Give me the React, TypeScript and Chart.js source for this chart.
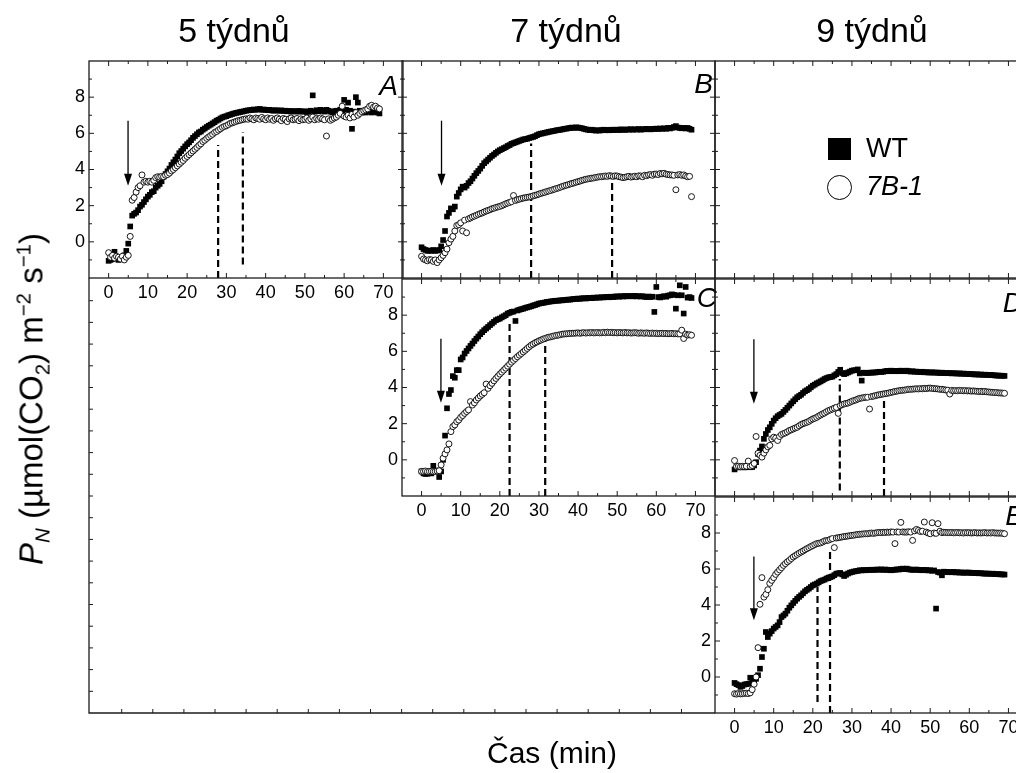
import React, { useEffect, useRef } from "react";
import { Chart, registerables } from "chart.js";
Chart.register(...registerables);

const FONT = '"Liberation Sans", Arial, Helvetica, sans-serif';

// ---------------- DATA ----------------
const TIME = [
  0, 0.5, 1, 1.5, 2, 2.5, 3, 3.5, 4, 4.5,
  5, 5.5, 6, 6.5, 7, 7.5, 8, 8.5, 9, 9.5,
  10, 10.5, 11, 11.5, 12, 12.5, 13, 13.5, 14, 14.5,
  15, 15.5, 16, 16.5, 17, 17.5, 18, 18.5, 19, 19.5,
  20, 20.5, 21, 21.5, 22, 22.5, 23, 23.5, 24, 24.5,
  25, 25.5, 26, 26.5, 27, 27.5, 28, 28.5, 29, 29.5,
  30, 30.5, 31, 31.5, 32, 32.5, 33, 33.5, 34, 34.5,
  35, 35.5, 36, 36.5, 37, 37.5, 38, 38.5, 39, 39.5,
  40, 40.5, 41, 41.5, 42, 42.5, 43, 43.5, 44, 44.5,
  45, 45.5, 46, 46.5, 47, 47.5, 48, 48.5, 49, 49.5,
  50, 50.5, 51, 51.5, 52, 52.5, 53, 53.5, 54, 54.5,
  55, 55.5, 56, 56.5, 57, 57.5, 58, 58.5, 59, 59.5,
  60, 60.5, 61, 61.5, 62, 62.5, 63, 63.5, 64, 64.5,
  65, 65.5, 66, 66.5, 67, 67.5, 68, 68.5, 69,
];

const A_WT = [
  -1.05, -1.0, -0.95, -0.55, -0.9, -1.0, -0.9, -0.95, -0.75, -0.5,
  -0.1, 0.85, 1.45, 1.55, 1.62, 1.75, 1.95, 2.05, 2.2, 2.35,
  2.5, 2.6, 2.75, 2.8, 3.0, 3.1, 3.2, 3.35, 3.6, 3.75,
  3.9, 4.05, 4.25, 4.4, 4.55, 4.72, 4.9, 5.02, 5.15, 5.28,
  5.4, 5.5, 5.62, 5.75, 5.85, 5.95, 6.05, 6.1, 6.2, 6.27,
  6.35, 6.42, 6.48, 6.55, 6.62, 6.7, 6.75, 6.82, 6.88, 6.92,
  6.95, 7.0, 7.03, 7.07, 7.1, 7.13, 7.15, 7.18, 7.2, 7.22,
  7.25, 7.27, 7.28, 7.3, 7.32, 7.3, 7.33, 7.35, 7.3, 7.32,
  7.3, 7.28, 7.3, 7.27, 7.25, 7.28, 7.26, 7.25, 7.27, 7.24,
  7.25, 7.22, 7.24, 7.2, 7.23, 7.22, 7.2, 7.24, 7.21, 7.2,
  7.22, 7.18, 7.2, 7.25, 8.1, 7.2, 7.28, 7.22, 7.3, 7.25,
  7.2, 7.3, 7.25, 7.2, 7.15, 7.22, 7.25, 7.18, 7.3, 7.2,
  7.85, 7.3, 7.7, 7.25, 6.25, 7.2, 8.0, 7.7, 7.25, 7.15,
  7.2, 7.15, 7.25, 7.2, 7.15, 7.22, 7.18, 7.15, 7.1,
];
const A_7B1 = [
  -0.6, -0.85, -0.75, -0.9, -0.8, -0.85, -0.95, -0.8, -1.0, -0.85,
  -0.75, 0.3, 2.3, 2.45, 2.75, 3.0, 3.1, 3.7, 3.3, 3.35,
  3.3, 3.35, 3.3, 3.4, 3.55, 3.6, 3.58, 3.62, 3.6, 3.68,
  3.72, 3.8, 3.92, 4.0, 4.1, 4.2, 4.3, 4.4, 4.5, 4.62,
  4.72, 4.82, 4.92, 5.02, 5.12, 5.22, 5.33, 5.42, 5.55, 5.62,
  5.72, 5.8, 5.88, 5.95, 6.05, 6.1, 6.18, 6.25, 6.33, 6.38,
  6.42, 6.48, 6.55, 6.58, 6.62, 6.66, 6.7, 6.72, 6.75, 6.78,
  6.8, 6.78, 6.85, 6.8, 6.75, 6.85, 6.82, 6.78, 6.88, 6.8,
  6.75, 6.85, 6.78, 6.82, 6.72, 6.8, 6.85, 6.78, 6.7, 6.82,
  6.78, 6.65, 6.8, 6.85, 6.75, 6.78, 6.82, 6.7, 6.8, 6.75,
  6.78, 6.85, 6.72, 6.8, 6.9, 6.75, 6.82, 6.78, 6.85, 6.8,
  6.75, 5.85, 6.8, 6.72, 6.78, 6.85, 6.9, 7.0, 7.1, 7.5,
  6.95, 6.9, 7.0, 6.85, 7.05, 6.9, 7.15, 7.0, 7.1, 7.2,
  7.25, 7.3, 7.35, 7.5, 7.55, 7.45, 7.5, 7.4, 7.35,
];

const B_WT = [
  -0.3, -0.4, -0.45, -0.5, -0.48, -0.5, -0.45, -0.5, -0.48, -0.45,
  -0.25, 0.1, 0.6, 1.4, 1.6, 1.85, 1.8, 1.95, 2.5, 2.7,
  2.9, 3.05, 3.0, 3.1, 3.25, 3.35, 3.5, 3.65, 3.8, 3.92,
  4.05, 4.2, 4.35, 4.45, 4.55, 4.65, 4.75, 4.83, 4.92, 5.0,
  5.07, 5.12, 5.18, 5.23, 5.3, 5.35, 5.42, 5.46, 5.5, 5.54,
  5.58, 5.62, 5.66, 5.68, 5.7, 5.74, 5.77, 5.8, 5.84, 5.9,
  5.95, 5.98, 6.0, 6.03, 6.05, 6.08, 6.1, 6.12, 6.14, 6.17,
  6.18, 6.2, 6.22, 6.25, 6.26, 6.28, 6.3, 6.32, 6.3, 6.33,
  6.32, 6.3, 6.28, 6.25, 6.22, 6.2, 6.18, 6.2, 6.17, 6.15,
  6.17, 6.15, 6.18, 6.2, 6.17, 6.19, 6.17, 6.2, 6.18, 6.2,
  6.2, 6.18, 6.22, 6.2, 6.19, 6.22, 6.2, 6.23, 6.2, 6.22,
  6.21, 6.24, 6.2, 6.23, 6.22, 6.25, 6.23, 6.22, 6.25, 6.24,
  6.26, 6.24, 6.27, 6.25, 6.28, 6.25, 6.3, 6.27, 6.3, 6.35,
  6.4, 6.32, 6.3, 6.28, 6.3, 6.27, 6.3, 6.25, 6.2,
];
const B_7B1 = [
  -0.8, -0.95, -1.0, -1.05, -0.98, -1.0, -1.08, -1.0, -1.15, -1.0,
  -0.88, -0.75, -0.6, -0.4, -0.05, 0.15, 0.3, 0.6, 0.9, 0.95,
  1.05, 0.6, 1.2, 0.5, 1.27, 1.32, 1.38, 1.42, 1.47, 1.52,
  1.56, 1.6, 1.65, 1.7, 1.74, 1.78, 1.83, 1.86, 1.9, 1.93,
  1.96, 2.0, 2.05, 2.1, 2.14, 2.18, 2.22, 2.56, 2.29, 2.33,
  2.36, 2.39, 2.42, 2.44, 2.46, 2.48, 2.5, 2.54, 2.57, 2.6,
  2.64, 2.68, 2.71, 2.74, 2.78, 2.81, 2.84, 2.88, 2.91, 2.95,
  2.98, 3.02, 3.06, 3.1, 3.13, 3.16, 3.2, 3.23, 3.26, 3.3,
  3.33, 3.36, 3.4, 3.43, 3.46, 3.48, 3.5, 3.52, 3.53, 3.56,
  3.58, 3.6, 3.6, 3.62, 3.64, 3.62, 3.66, 3.64, 3.62, 3.65,
  3.64, 3.6, 3.58, 3.55, 3.57, 3.6, 3.62, 3.58, 3.6, 3.63,
  3.6, 3.65, 3.64, 3.6, 3.68, 3.66, 3.7, 3.72, 3.68, 3.74,
  3.75, 3.72, 3.78, 3.76, 3.79, 3.74, 3.72, 3.7, 3.7, 3.68,
  2.88, 3.7, 3.72, 3.68, 3.7, 3.64, 3.6, 3.62, 2.5,
];

const C_WT = [
  -0.64, -0.75, -0.78, -0.77, -0.72, -0.75, -0.33, -0.6, -0.64, -0.95,
  -0.64, 0.0, 1.34, 2.85, 3.64, 3.86, 4.63, 4.54, 4.96, 4.96,
  5.55, 5.66, 5.88, 6.02, 6.16, 6.3, 6.43, 6.57, 6.7, 6.82,
  6.95, 7.06, 7.17, 7.26, 7.35, 7.45, 7.54, 7.63, 7.72, 7.77,
  7.81, 7.88, 7.94, 8.0, 8.09, 8.13, 8.18, 8.2, 7.68, 8.26,
  8.3, 8.33, 8.36, 8.4, 8.43, 8.46, 8.49, 8.53, 8.56, 8.6,
  8.64, 8.66, 8.68, 8.7, 8.73, 8.74, 8.76, 8.77, 8.79, 8.8,
  8.8, 8.82, 8.82, 8.84, 8.85, 8.86, 8.86, 8.88, 8.9, 8.9,
  8.92, 8.9, 8.93, 8.94, 8.92, 8.95, 8.96, 8.94, 8.97, 8.96,
  8.98, 8.97, 8.99, 8.98, 9.0, 9.01, 8.99, 9.02, 9.0, 9.03,
  9.04, 9.02, 9.05, 9.03, 9.06, 9.04, 9.05, 9.06, 9.04, 9.07,
  9.04, 9.05, 9.03, 9.05, 9.02, 9.0, 9.03, 9.0, 9.02, 8.18,
  9.56, 9.0, 8.98, 9.02, 9.05, 9.02, 9.08, 9.1, 9.15, 9.12,
  8.36, 9.1, 9.65, 9.1, 8.09, 9.56, 8.97, 9.0, 8.95,
];
const C_7B1 = [
  -0.64, -0.64, -0.62, -0.65, -0.64, -0.63, -0.65, -0.64, -0.62, -0.6,
  -0.28, 0.09, 0.33, 0.55, 0.88, 1.56, 1.84, 1.93, 2.11, 2.2,
  2.35, 2.45, 2.57, 2.67, 2.76, 3.22, 3.03, 3.15, 3.31, 3.42,
  3.53, 3.62, 3.71, 4.19, 3.95, 4.1, 4.23, 4.37, 4.5, 4.62,
  4.74, 4.85, 4.96, 5.07, 5.18, 5.29, 5.4, 5.5, 5.6, 5.7,
  5.79, 5.88, 5.97, 6.06, 6.16, 6.25, 6.34, 6.4, 6.47, 6.52,
  6.58, 6.62, 6.67, 6.71, 6.75, 6.78, 6.8, 6.83, 6.86, 6.88,
  6.9, 6.92, 6.95, 6.96, 6.97, 6.98, 6.99, 7.0, 7.0, 7.01,
  7.02, 7.0, 7.02, 7.03, 7.01, 7.03, 7.02, 7.04, 7.02, 7.03,
  7.04, 7.02, 7.03, 7.05, 7.03, 7.06, 7.04, 7.05, 7.03, 7.04,
  7.02, 7.04, 7.03, 7.02, 7.04, 7.02, 7.03, 7.01, 7.02, 7.03,
  7.02, 7.0, 7.02, 7.01, 7.0, 7.02, 7.0, 6.99, 7.01, 6.99,
  7.0, 6.98, 6.99, 7.0, 6.98, 6.99, 6.97, 6.98, 6.99, 6.97,
  6.98, 6.96, 6.97, 7.17, 6.71, 6.95, 6.9, 6.92, 6.89,
];

const D_WT = [
  -0.53, -0.4, -0.42, -0.38, -0.4, -0.42, -0.4, -0.38, -0.41, -0.4,
  -0.31, -0.13, 0.33, 0.51, 0.74, 1.16, 1.43, 1.65, 1.8, 1.99,
  2.17, 2.3, 2.41, 2.48, 2.54, 2.65, 2.76, 2.88, 3.0, 3.12,
  3.24, 3.35, 3.46, 3.53, 3.6, 3.7, 3.79, 3.85, 3.92, 4.01,
  4.1, 4.16, 4.23, 4.28, 4.34, 4.4, 4.47, 4.52, 4.56, 4.58,
  4.6, 4.67, 4.74, 4.86, 4.98, 4.8, 4.74, 4.78, 4.83, 4.88,
  4.93, 4.95, 4.96, 5.0, 4.78, 4.38, 4.82, 4.8, 4.8, 4.82,
  4.82, 4.83, 4.83, 4.85, 4.87, 4.86, 4.87, 4.9, 4.92, 4.9,
  4.93, 4.91, 4.9, 4.92, 4.9, 4.93, 4.92, 4.9, 4.93, 4.9,
  4.88, 4.9, 4.87, 4.88, 4.86, 4.85, 4.87, 4.84, 4.85, 4.83,
  4.83, 4.84, 4.82, 4.83, 4.82, 4.8, 4.82, 4.8, 4.8, 4.79,
  4.8, 4.78, 4.79, 4.78, 4.77, 4.78, 4.76, 4.77, 4.75, 4.76,
  4.74, 4.75, 4.73, 4.72, 4.73, 4.71, 4.72, 4.7, 4.71, 4.7,
  4.69, 4.7, 4.68, 4.67, 4.66, 4.66, 4.65, 4.65, 4.64,
];
const D_7B1 = [
  -0.04, -0.37, -0.35, -0.38, -0.36, -0.37, -0.35, -0.07, -0.36, -0.31,
  -0.2, 1.29, 0.36, 0.25, 0.15, 0.37, 0.55, 0.72, 0.8, 1.16,
  1.25, 1.2, 1.07, 1.29, 1.4, 1.45, 1.49, 1.55, 1.62, 1.66,
  1.71, 1.76, 1.8, 1.88, 1.95, 2.0, 2.04, 2.08, 2.13, 2.2,
  2.26, 2.3, 2.35, 2.42, 2.48, 2.54, 2.59, 2.66, 2.72, 2.76,
  2.81, 2.86, 2.9, 2.57, 3.0, 3.05, 3.09, 3.12, 3.14, 3.19,
  3.24, 3.28, 3.31, 3.36, 3.4, 3.42, 3.44, 3.46, 3.46, 2.81,
  3.5, 3.52, 3.55, 3.58, 3.6, 3.62, 3.64, 3.66, 3.68, 3.7,
  3.73, 3.75, 3.78, 3.8, 3.82, 3.84, 3.85, 3.86, 3.88, 3.9,
  3.9, 3.91, 3.92, 3.93, 3.92, 3.94, 3.93, 3.95, 3.94, 3.96,
  3.97, 3.95, 3.94, 3.93, 3.92, 3.9, 3.9, 3.88, 3.86, 3.85,
  3.64, 3.84, 3.82, 3.83, 3.82, 3.84, 3.83, 3.82, 3.83, 3.81,
  3.82, 3.8, 3.81, 3.8, 3.79, 3.78, 3.79, 3.77, 3.78, 3.76,
  3.75, 3.74, 3.73, 3.72, 3.72, 3.7, 3.7, 3.69, 3.68,
];

const E_WT = [
  -0.33, -0.4, -0.45, -0.55, -0.5, -0.42, -0.4, -0.38, -0.04, -0.28,
  -0.25, -0.1, 0.1, 0.46, 1.11, 1.57, 2.5, 2.22, 2.41, 2.55,
  2.69, 2.78, 2.87, 3.05, 3.33, 3.42, 3.52, 3.68, 3.85, 3.98,
  4.11, 4.23, 4.35, 4.45, 4.54, 4.65, 4.76, 4.84, 4.91, 5.0,
  5.09, 5.14, 5.19, 5.26, 5.33, 5.37, 5.41, 5.47, 5.52, 5.55,
  5.59, 5.66, 5.74, 5.76, 5.78, 5.7, 5.61, 5.68, 5.75, 5.8,
  5.83, 5.86, 5.88, 5.9, 5.93, 5.92, 5.94, 5.93, 5.95, 5.94,
  5.96, 5.95, 5.96, 5.97, 5.96, 5.98, 5.95, 5.97, 5.96, 5.94,
  5.93, 5.95, 5.96, 5.98, 5.97, 6.0, 6.02, 5.99, 6.02, 5.98,
  5.97, 5.95, 5.96, 5.97, 5.95, 5.94, 5.93, 5.95, 5.94, 5.92,
  5.93, 5.9, 5.92, 3.8, 5.83, 5.8, 5.65, 5.85, 5.84, 5.82,
  5.83, 5.82, 5.84, 5.81, 5.82, 5.8, 5.81, 5.79, 5.8, 5.8,
  5.8, 5.78, 5.79, 5.77, 5.78, 5.76, 5.77, 5.75, 5.74, 5.75,
  5.74, 5.73, 5.74, 5.72, 5.71, 5.72, 5.7, 5.7, 5.69,
];
const E_7B1 = [
  -0.93, -0.95, -0.92, -0.94, -0.93, -0.91, -0.9, -0.92, -0.88, -0.7,
  -0.4, 0.0, 1.63, 4.04, 5.52, 4.44, 4.59, 4.85, 5.2, 5.37,
  5.52, 5.7, 5.83, 5.95, 6.07, 6.2, 6.3, 6.4, 6.48, 6.58,
  6.67, 6.74, 6.81, 6.88, 6.94, 7.0, 7.07, 7.13, 7.19, 7.25,
  7.3, 7.36, 7.41, 7.43, 7.45, 7.5, 7.56, 7.58, 7.6, 7.65,
  7.69, 7.19, 7.72, 7.74, 7.76, 7.78, 7.8, 7.82, 7.83, 7.85,
  7.87, 7.88, 7.9, 7.92, 7.93, 7.94, 7.95, 7.96, 7.96, 7.98,
  8.0, 7.98, 8.0, 8.02, 8.03, 8.02, 8.04, 8.03, 8.05, 8.04,
  8.06, 8.05, 7.41, 8.06, 8.05, 8.59, 8.06, 8.05, 8.05, 8.07,
  8.05, 7.59, 8.12, 8.2, 8.15, 8.08, 8.1, 8.61, 8.05, 8.0,
  7.96, 8.57, 8.0, 7.98, 8.52, 8.1, 8.02, 8.04, 8.03, 8.02,
  8.02, 8.03, 8.01, 8.02, 8.03, 8.01, 8.02, 8.0, 8.02, 8.01,
  8.02, 8.0, 8.01, 8.02, 8.0, 8.01, 8.0, 8.01, 8.02, 8.0,
  8.01, 8.0, 8.02, 8.0, 8.0, 7.99, 8.0, 7.98, 7.96,
];

// dashed vertical markers (x, bottom y, top y)
const A_DASH_X = [27.9, 34.2];
const A_DASH_LOW = [-2, -1.25];
const A_DASH_HIGH = [5.35, 6.08];
const B_DASH_X = [28.0, 48.7];
const B_DASH_LOW = [-2, -2];
const B_DASH_HIGH = [5.44, 3.6];
const C_DASH_X = [22.5, 31.6];
const C_DASH_LOW = [-2, -2];
const C_DASH_HIGH = [7.72, 6.62];
const D_DASH_X = [26.9, 38.2];
const D_DASH_LOW = [-1.7, -2];
const D_DASH_HIGH = [4.47, 3.73];
const E_DASH_X = [21.2, 24.4];
const E_DASH_LOW = [-1.39, -2];
const E_DASH_HIGH = [5.0, 7.13];

// arrows (panel order A..E): x, start y, tip y
const ARROW_X = [4.95, 5.1, 4.95, 4.94, 4.94];
const ARROW_FROM = [6.7, 6.7, 6.7, 6.67, 6.7];
const ARROW_TIP = [3.1, 3.1, 3.16, 3.1, 3.15];

const X_TICKS = [0, 10, 20, 30, 40, 50, 60, 70];
const Y_TICKS = [0, 2, 4, 6, 8];
const X_MIN = -5, X_MAX = 75, Y_MIN = -2, Y_MAX = 10;

const SERIES = ["WT", "7B-1"];
const COLUMN_TITLES = ["5 týdnů", "7 týdnů", "9 týdnů"];
const X_TITLE = "Čas (min)";

// ---------------- LAYOUT ----------------
const PAD_L = 40, PAD_T = 18, PAD_R = 18, PAD_B = 30;

const PANELS = [
  { id: "A", box: { l: 89, t: 61, r: 403, b: 278 }, showX: true, showY: true, ldx: -5, ldy: 34, wt: A_WT, mut: A_7B1, dx: A_DASH_X, dlo: A_DASH_LOW, dhi: A_DASH_HIGH, arrow: 0 },
  { id: "B", box: { l: 402, t: 61, r: 715, b: 278 }, showX: false, showY: false, ldx: -2, ldy: 32, wt: B_WT, mut: B_7B1, dx: B_DASH_X, dlo: B_DASH_LOW, dhi: B_DASH_HIGH, arrow: 1 },
  { id: "L", box: { l: 715, t: 61, r: 1028, b: 278 }, showX: false, showY: false },
  { id: "C", box: { l: 402, t: 279, r: 715, b: 496 }, showX: true, showY: true, ldx: 2, ldy: 28, wt: C_WT, mut: C_7B1, dx: C_DASH_X, dlo: C_DASH_LOW, dhi: C_DASH_HIGH, arrow: 2 },
  { id: "D", box: { l: 715, t: 279, r: 1028, b: 496 }, showX: false, showY: false, ldx: -5, ldy: 33, wt: D_WT, mut: D_7B1, dx: D_DASH_X, dlo: D_DASH_LOW, dhi: D_DASH_HIGH, arrow: 3 },
  { id: "E", box: { l: 715, t: 497, r: 1028, b: 713 }, showX: true, showY: true, ldx: -4, ldy: 28, wt: E_WT, mut: E_7B1, dx: E_DASH_X, dlo: E_DASH_LOW, dhi: E_DASH_HIGH, arrow: 4 },
];

const FRAME_COLOR = "#1c1c1c";

function framePlugin(spec: any) {
  return {
    id: "frame" + spec.id,
    afterDatasetsDraw(chart: any) {
      const { ctx, chartArea: ca, scales } = chart;
      const xs = scales.x, ys = scales.y;
      ctx.save();
      ctx.strokeStyle = FRAME_COLOR;
      ctx.lineWidth = 1.3;
      ctx.strokeRect(ca.left, ca.top, ca.right - ca.left, ca.bottom - ca.top);
      const xMinor = X_TICKS.slice(1).map((v, i) => (v + X_TICKS[i]) / 2);
      const yMinor = [Y_MIN + 1, ...Y_TICKS.map((v) => v + 1)];
      ctx.lineWidth = 1;
      ctx.beginPath();
      const xt = (v: number, len: number) => {
        const px = xs.getPixelForValue(v);
        ctx.moveTo(px, ca.bottom); ctx.lineTo(px, ca.bottom - len);
        ctx.moveTo(px, ca.top); ctx.lineTo(px, ca.top + len);
      };
      const yt = (v: number, len: number) => {
        const py = ys.getPixelForValue(v);
        ctx.moveTo(ca.left, py); ctx.lineTo(ca.left + len, py);
        ctx.moveTo(ca.right, py); ctx.lineTo(ca.right - len, py);
      };
      X_TICKS.forEach((v) => xt(v, 5));
      xMinor.forEach((v) => xt(v, 3));
      Y_TICKS.forEach((v) => yt(v, 5));
      yMinor.forEach((v) => yt(v, 3));
      ctx.stroke();

      if (spec.arrow !== undefined) {
        const i = spec.arrow;
        const px = xs.getPixelForValue(ARROW_X[i]);
        const p0 = ys.getPixelForValue(ARROW_FROM[i]);
        const p1 = ys.getPixelForValue(ARROW_TIP[i]);
        ctx.strokeStyle = "#000";
        ctx.lineWidth = 1.3;
        ctx.beginPath();
        ctx.moveTo(px, p0);
        ctx.lineTo(px, p1 - 8);
        ctx.stroke();
        ctx.fillStyle = "#000";
        ctx.beginPath();
        ctx.moveTo(px, p1);
        ctx.lineTo(px - 4, p1 - 12);
        ctx.lineTo(px + 4, p1 - 12);
        ctx.closePath();
        ctx.fill();
      }
      if (spec.ldx !== undefined) {
        ctx.fillStyle = "#000";
        ctx.font = `italic 28px ${FONT}`;
        ctx.textAlign = "right";
        ctx.textBaseline = "alphabetic";
        ctx.fillText(spec.id, ca.right + spec.ldx, ca.top + spec.ldy);
      }
      ctx.restore();
    },
  };
}

function PanelChart({ spec }: { spec: any }) {
  const ref = useRef<HTMLCanvasElement>(null);
  const w = spec.box.r - spec.box.l + PAD_L + PAD_R;
  const h = spec.box.b - spec.box.t + PAD_T + PAD_B;
  useEffect(() => {
    const datasets: any[] = [];
    if (spec.mut) {
      datasets.push({
        label: SERIES[1],
        data: TIME.map((t, i) => ({ x: t, y: spec.mut[i] })),
        pointStyle: "circle",
        pointRadius: 3.0,
        backgroundColor: "#fff",
        borderColor: "#000",
        borderWidth: 0.9,
        showLine: false,
      });
    }
    if (spec.wt) {
      datasets.push({
        label: SERIES[0],
        data: TIME.map((t, i) => ({ x: t, y: spec.wt[i] })),
        pointStyle: "rect",
        pointRadius: 4.0,
        backgroundColor: "#000",
        borderColor: "#000",
        borderWidth: 0,
        showLine: false,
      });
    }
    if (spec.dx) {
      spec.dx.forEach((x: number, i: number) => {
        datasets.push({
          label: "marker",
          data: [{ x, y: spec.dlo[i] }, { x, y: spec.dhi[i] }],
          showLine: true,
          borderColor: "#000",
          borderWidth: 2.2,
          borderDash: [7, 4],
          pointRadius: 0,
          fill: false,
        });
      });
    }
    const tickFont = { family: FONT, size: 18 };
    const chart = new Chart(ref.current as HTMLCanvasElement, {
      type: "scatter",
      data: { datasets },
      options: {
        responsive: false,
        animation: false,
        devicePixelRatio: 1,
        events: [],
        layout: { padding: { top: PAD_T, right: PAD_R, left: 0, bottom: 0 } },
        plugins: { legend: { display: false }, tooltip: { enabled: false } },
        scales: {
          x: {
            type: "linear",
            position: "bottom",
            min: X_MIN,
            max: X_MAX,
            afterBuildTicks: (s: any) => { s.ticks = X_TICKS.map((v) => ({ value: v })); },
            afterFit: (s: any) => { s.height = PAD_B; },
            grid: { display: false, drawTicks: false },
            border: { display: false },
            ticks: { display: spec.showX, color: "#000", font: tickFont, padding: 4, maxRotation: 0, autoSkip: false },
          },
          y: {
            type: "linear",
            position: "left",
            min: Y_MIN,
            max: Y_MAX,
            afterBuildTicks: (s: any) => { s.ticks = Y_TICKS.map((v) => ({ value: v })); },
            afterFit: (s: any) => { s.width = PAD_L; },
            grid: { display: false, drawTicks: false },
            border: { display: false },
            ticks: { display: spec.showY, color: "#000", font: tickFont, padding: 4 },
          },
        },
      } as any,
      plugins: [framePlugin(spec)],
    });
    return () => chart.destroy();
  }, []);
  return (
    <canvas
      ref={ref}
      width={w}
      height={h}
      style={{ position: "absolute", left: spec.box.l - PAD_L, top: spec.box.t - PAD_T, width: w, height: h }}
    />
  );
}

function OuterFrame() {
  const ref = useRef<HTMLCanvasElement>(null);
  useEffect(() => {
    const ctx = (ref.current as HTMLCanvasElement).getContext("2d") as CanvasRenderingContext2D;
    ctx.clearRect(0, 0, 1016, 773);
    ctx.strokeStyle = FRAME_COLOR;
    ctx.lineWidth = 1.3;
    ctx.beginPath();
    ctx.moveTo(89, 278);
    ctx.lineTo(89, 713);
    ctx.lineTo(715, 713);
    ctx.stroke();
    ctx.lineWidth = 1;
    ctx.beginPath();
    for (let y = 713 - 21.7; y > 283; y -= 21.7) { ctx.moveTo(89, y); ctx.lineTo(93, y); }
    for (let x = 89 + 32.7; x < 712; x += 31.1) { ctx.moveTo(x, 713); ctx.lineTo(x, 709); }
    ctx.stroke();
  }, []);
  return <canvas ref={ref} width={1016} height={773} style={{ position: "absolute", left: 0, top: 0 }} />;
}

const subStyle: any = { fontSize: "0.62em", verticalAlign: "baseline", position: "relative", top: "0.32em" };
const supStyle: any = { fontSize: "0.62em", verticalAlign: "baseline", position: "relative", top: "-0.58em" };

export default function App() {
  const titleX = [234, 566, 872];
  return (
    <div style={{ position: "fixed", left: 0, top: 0, width: 1016, height: 773, overflow: "hidden", background: "#fff", fontFamily: FONT, color: "#000" }}>
      <OuterFrame />
      {PANELS.map((p) => <PanelChart key={p.id} spec={p} />)}
      {COLUMN_TITLES.map((t, i) => (
        <div key={t} style={{ position: "absolute", left: titleX[i], top: 13, transform: "translateX(-50%)", fontSize: 34, lineHeight: 1, whiteSpace: "nowrap" }}>{t}</div>
      ))}
      <div style={{ position: "absolute", left: 552, top: 738, transform: "translateX(-50%)", fontSize: 30, lineHeight: 1, whiteSpace: "nowrap" }}>{X_TITLE}</div>
      <div style={{ position: "absolute", left: 31, top: 399, transform: "translate(-50%,-50%) rotate(-90deg)", fontSize: 33, lineHeight: 1, whiteSpace: "nowrap" }}>
        <i>P</i><span style={subStyle}><i>N</i></span> (µmol(CO<span style={subStyle}>2</span>) m<span style={supStyle}>−2</span> s<span style={supStyle}>−1</span>)
      </div>
      {/* legend */}
      <div style={{ position: "absolute", left: 828, top: 138, width: 23, height: 22, background: "#000" }} />
      <div style={{ position: "absolute", left: 866, top: 135, fontSize: 27, lineHeight: 1, whiteSpace: "nowrap" }}>{SERIES[0]}</div>
      <div style={{ position: "absolute", left: 827, top: 175, width: 25, height: 25, border: "1.6px solid #000", borderRadius: "50%", boxSizing: "border-box" }} />
      <div style={{ position: "absolute", left: 866, top: 173, fontSize: 27, lineHeight: 1, fontStyle: "italic", whiteSpace: "nowrap" }}>{SERIES[1]}</div>
    </div>
  );
}
